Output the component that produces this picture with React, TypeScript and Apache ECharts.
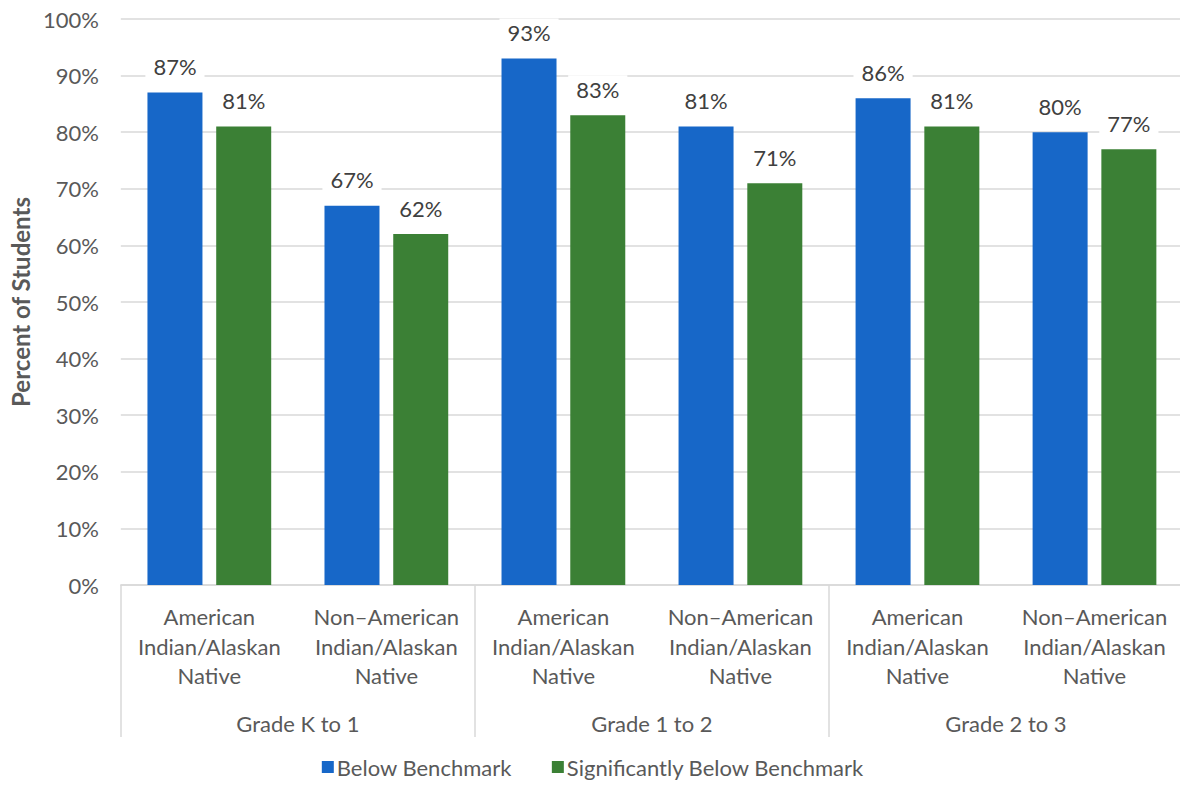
import React, { useEffect, useRef } from "react";
import * as echarts from "echarts";

const groups = ["Grade K to 1", "Grade 1 to 2", "Grade 2 to 3"];
const subgroups = [
  "American\nIndian/Alaskan\nNative",
  "Non\u2013American\nIndian/Alaskan\nNative",
  "American\nIndian/Alaskan\nNative",
  "Non\u2013American\nIndian/Alaskan\nNative",
  "American\nIndian/Alaskan\nNative",
  "Non\u2013American\nIndian/Alaskan\nNative",
];
const belowBenchmark = [87, 67, 93, 81, 86, 80];
const significantlyBelow = [81, 62, 83, 71, 81, 77];

const FONT = "Lato, 'Open Sans', sans-serif";
const TEXT = "#595959";
const LINE = "#d9d9d9";
const FS = 22;

export default function App() {
  const ref = useRef<HTMLDivElement>(null);

  useEffect(() => {
    const chart = echarts.init(ref.current!, null, { renderer: "svg" });
    const label = {
      show: true,
      position: "top" as const,
      distance: 12,
      formatter: "{c}%",
      color: "#404040",
      fontSize: FS,
      fontFamily: FONT,
      backgroundColor: "#ffffff",
      padding: [3, 8, 3, 8],
    };
    chart.setOption({
      animation: false,
      textStyle: { fontFamily: FONT },
      grid: { left: 115, top: 19, width: 1068, height: 566, containLabel: false },
      legend: {
        bottom: 3,
        left: "center",
        itemWidth: 12,
        itemHeight: 12,
        itemGap: 40,
        icon: "rect",
        textStyle: { color: TEXT, fontSize: FS, fontFamily: FONT, padding: [0, 0, 0, -2] },
        data: ["Below Benchmark", "Significantly Below Benchmark"],
      },
      xAxis: [
        {
          type: "category",
          data: subgroups,
          position: "bottom",
          axisLine: { show: true, lineStyle: { color: LINE, width: 1.5 } },
          axisTick: { show: false },
          axisLabel: {
            interval: 0,
            color: TEXT,
            fontSize: FS,
            fontFamily: FONT,
            lineHeight: 29.5,
            margin: 17,
          },
        },
        {
          type: "category",
          data: groups,
          position: "bottom",
          axisLine: { show: false },
          axisTick: {
            show: true,
            alignWithLabel: false,
            length: 152,
            lineStyle: { color: LINE, width: 1.5 },
          },
          axisLabel: {
            interval: 0,
            color: TEXT,
            fontSize: FS,
            fontFamily: FONT,
            margin: 127,
          },
        },
      ],
      yAxis: {
        type: "value",
        min: 0,
        max: 100,
        interval: 10,
        name: "Percent of Students",
        nameLocation: "middle",
        nameGap: 88,
        nameTextStyle: { color: TEXT, fontSize: 24, fontWeight: "bold", fontFamily: FONT },
        axisLine: { show: false },
        axisTick: { show: false },
        axisLabel: { formatter: "{value}%", color: TEXT, fontSize: FS, fontFamily: FONT, margin: 22 },
        splitLine: { lineStyle: { color: LINE, width: 1.5 } },
      },
      series: [
        {
          name: "Below Benchmark",
          type: "bar",
          data: belowBenchmark,
          barWidth: 55,
          barGap: "25%",
          itemStyle: { color: "#1767c8" },
          label,
        },
        {
          name: "Significantly Below Benchmark",
          type: "bar",
          data: significantlyBelow,
          barWidth: 55,
          barGap: "25%",
          itemStyle: { color: "#3b8035" },
          label,
        },
      ],
    });
    return () => chart.dispose();
  }, []);

  // The plot runs slightly past the right edge, so the chart canvas is wider
  // than the visible frame and the overflow is clipped.
  return (
    <div
      style={{
        position: "absolute",
        left: 0,
        top: 0,
        width: 1180,
        height: 786,
        overflow: "hidden",
        background: "#fff",
      }}
    >
      <div ref={ref} style={{ width: 1186, height: 786 }} />
    </div>
  );
}
